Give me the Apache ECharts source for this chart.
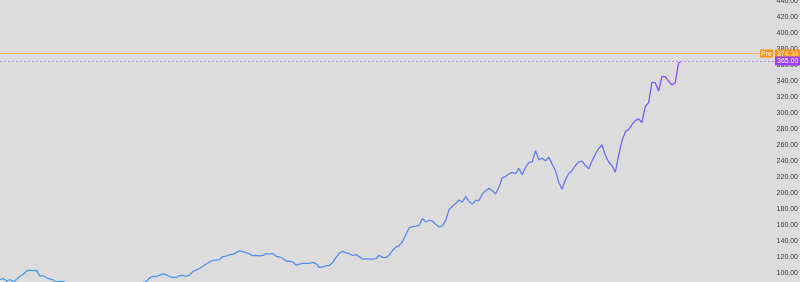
<!DOCTYPE html>
<html>
<head>
<meta charset="utf-8">
<script src="https://cdn.jsdelivr.net/npm/echarts@6/dist/echarts.min.js"></script>
<style>
html,body{margin:0;padding:0;background:#dcdcdc;}
#chart{width:800px;height:282px;}
</style>
</head>
<body>
<div id="chart"></div>
<script>
// ---- data ----
const SLOT_COUNT = 234; // time slots on the x axis (incl. empty right padding)
const prices = [
  92.1, 93.1, 89.9, 91.9, 88.9, 92.0, 95.9, 98.5, 102.5, 103.5, 103.0, 103.3, 96.3, 96.5, 94.0, 92.6, 91.3, 88.8, 89.4, 89.2,
  87.5, 86.5, 85.5, 85, 84, 84.5, 83.5, 82.5, 82, 83, 83.5, 82.5, 81.5, 81, 82, 83, 83.5, 84, 85, 85.5, 86, 87, 87.5, 88,
  89.6, 94.0, 95.9, 95.6, 97.4, 98.9, 97.6, 95.6, 94.5, 94.4,
  96.8, 97.1, 95.8, 97.4, 102.1, 103.5, 105.9, 108.5, 111.3, 113.8,
  115.6, 116.1, 116.8, 120.5, 121.1, 122.8, 123.3, 125.4, 127.5, 126.6,
  125.5, 123.9, 121.6, 122.0, 121.3, 122.1, 124.3, 123.6, 124.4, 120.9,
  120.3, 118.4, 115.0, 114.7, 113.8, 110.0, 111.0, 112.1, 112.1, 112.1,
  113.4, 111.8, 106.9, 107.5, 109.0, 109.5, 113.0, 119.3, 124.6, 127.1,
  125.4, 124.1, 121.9, 122.9, 120.5, 117.1, 117.9, 117.4, 117.4, 117.9,
  122.1, 119.6, 119.3, 122.3, 128.1, 132.3, 134.1, 139.4, 147.9, 156.3,
  157.9, 158.5, 159.4, 168.1, 163.8, 165.9, 165.1, 161.0, 157.5, 159.0,
  166.0, 179.1, 183.4, 186.9, 191.3, 188.4, 195.5, 189.8, 186.3, 190.8,
  190.6, 198.6, 202.8, 205.8, 203.1, 198.8, 207.1, 219.1, 220.5, 223.9,
  225.8, 224.1, 231.0, 223.0, 231.9, 238.3, 238.8, 252.9, 241.5, 243.4,
  240.4, 244.6, 235.9, 227.9, 213.1, 204.8, 216.8, 224.4, 227.9, 234.4,
  238.9, 239.8, 234.3, 230.3, 240.1, 248.8, 255.6, 260.0, 246.9, 238.8,
  233.9, 225.9, 247.5, 265.4, 276.6, 279.3, 285.6, 290.5, 292.6, 288.1,
  308.1, 312.9, 338.3, 337.9, 327.5, 345.4, 345.4, 339.8, 335.0, 337.9,
  362.5, 365.0
];
const prevClose = 374.30;
const lastPrice = 365.00;
const prevLabel = 'Pre';
const yMin = 80, yMax = 460, yStep = 20;

const categories = [];
for (let i = 0; i < SLOT_COUNT; i++) categories.push(String(i));

const chart = echarts.init(document.getElementById('chart'), null, {renderer: 'canvas'});
const labelFont = 'Liberation Sans, Arial, sans-serif';
chart.setOption({
  backgroundColor: '#dcdcdc',
  animation: false,
  grid: {left: 0, right: 25, top: -15, bottom: -7, outerBoundsMode: 'none', containLabel: false},
  xAxis: {
    type: 'category', data: categories, boundaryGap: false, show: false
  },
  yAxis: {
    type: 'value', position: 'right', min: yMin, max: yMax, interval: yStep,
    axisLine: {show: false}, axisTick: {show: false}, splitLine: {show: false},
    axisLabel: {
      formatter: v => v.toFixed(2), color: '#3a3a3a', fontSize: 7,
      fontFamily: labelFont, align: 'right', margin: 23
    }
  },
  series: [
    {
      name: 'price', type: 'line', data: prices, symbol: 'none', smooth: false, z: 3,
      lineStyle: {
        width: 1.3,
        color: new echarts.graphic.LinearGradient(0, 0, 1, 0, [
          {offset: 0, color: '#4a9ae6'},
          {offset: 0.5, color: '#5a8cea'},
          {offset: 0.75, color: '#6680ee'},
          {offset: 0.9, color: '#7368f0'},
          {offset: 1, color: '#8f48f5'}
        ])
      },
      markLine: {
        symbol: ['none', 'none'],
        precision: 2,
        data: [
          {
            yAxis: prevClose,
            lineStyle: {color: '#f5b36e', type: 'solid', width: 1},
            label: {
              position: 'end', distance: -15,
              formatter: '{pre|' + prevLabel + '}{gap| }{val|' + prevClose.toFixed(2) + '}',
              rich: {
                pre: {backgroundColor: '#f7931a', color: '#fff', fontSize: 7, fontFamily: labelFont, padding: [1, 1, 0, 1], lineHeight: 8},
                gap: {fontSize: 2, width: 2},
                val: {backgroundColor: '#f7931a', color: '#fff', fontSize: 7, fontFamily: labelFont, padding: [1, 2, 0, 2], lineHeight: 8}
              }
            }
          },
          {
            yAxis: lastPrice,
            lineStyle: {color: '#b690f5', type: [2, 2], width: 1},
            label: {
              position: 'end', distance: 0,
              formatter: lastPrice.toFixed(2),
              backgroundColor: '#9a40f0', color: '#fff', fontSize: 7, fontFamily: labelFont,
              padding: [1, 2, 0, 2], lineHeight: 8
            }
          }
        ]
      }
    }
  ]
});
</script>
</body>
</html>
